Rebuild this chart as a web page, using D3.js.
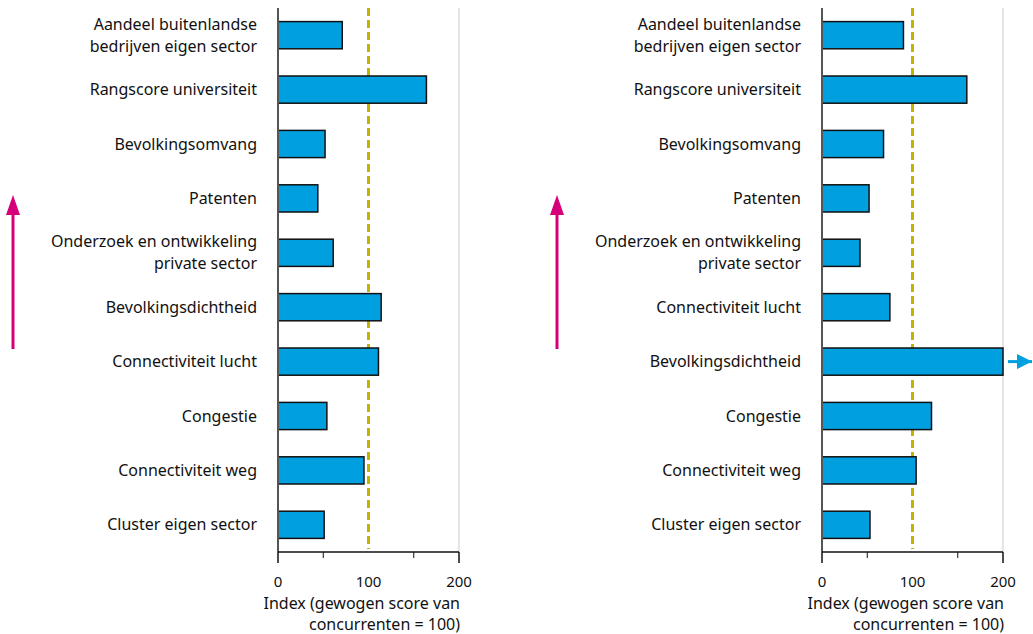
<!DOCTYPE html>
<html>
<head>
<meta charset="utf-8">
<script src="https://cdn.jsdelivr.net/npm/d3@7"></script>
<style>
  body { margin: 0; background: #fff; }
  svg { display: block; font-family: "Noto Sans", "Open Sans", sans-serif; }
</style>
</head>
<body>
<svg id="chart" width="1033" height="634"></svg>
<script>
// left panel
const leftCategories = [
    ["Aandeel buitenlandse", "bedrijven eigen sector"],
    ["Rangscore universiteit"],
    ["Bevolkingsomvang"],
    ["Patenten"],
    ["Onderzoek en ontwikkeling", "private sector"],
    ["Bevolkingsdichtheid"],
    ["Connectiviteit lucht"],
    ["Congestie"],
    ["Connectiviteit weg"],
    ["Cluster eigen sector"]
]
const leftValues = [71, 164, 52, 44, 61, 114, 111, 54, 95, 51]

// right panel
const rightCategories = [
    ["Aandeel buitenlandse", "bedrijven eigen sector"],
    ["Rangscore universiteit"],
    ["Bevolkingsomvang"],
    ["Patenten"],
    ["Onderzoek en ontwikkeling", "private sector"],
    ["Connectiviteit lucht"],
    ["Bevolkingsdichtheid"],
    ["Congestie"],
    ["Connectiviteit weg"],
    ["Cluster eigen sector"]
]
const rightValues = [90, 160, 68, 52, 42, 75, 230, 121, 104, 53]

const xTickLabels = [0, 100, 200]
const xMinorTicks = [50, 150]
const referenceValue = 100
const xMax = 200
const axisTitle = ["Index (gewogen score van", "concurrenten = 100)"]

const svg = d3.select('#chart')
const barColor = '#009fe0'
const accent = '#d4007a'

svg.append('defs').append('marker')
    .attr('id', 'overflow')
    .attr('viewBox', '0 0 10 10')
    .attr('refX', 10).attr('refY', 5)
    .attr('markerWidth', 5).attr('markerHeight', 5)
    .attr('markerUnits', 'strokeWidth')
    .attr('orient', 'auto')
    .append('path').attr('d', 'M0,0 L10,5 L0,10 Z').attr('fill', barColor)

const drawPanel = (originX, categories, values, labelX, arrowX) => {
    const g = svg.append('g')
    const x = d3.scaleLinear().domain([0, xMax]).range([originX, originX + 181])
    const y = d3.scaleBand().domain(d3.range(categories.length)).range([8, 552]).paddingInner(0.5).paddingOuter(0.25)

    // grey line at the end of the scale
    g.append('line')
        .attr('x1', x(xMax)).attr('x2', x(xMax))
        .attr('y1', 8).attr('y2', 552)
        .attr('stroke', '#dcdcdc').attr('stroke-width', 1.5)

    // reference line at 100 (sits behind the bars)
    g.append('line')
        .attr('x1', x(referenceValue)).attr('x2', x(referenceValue))
        .attr('y1', 8).attr('y2', 549)
        .attr('stroke', '#c4b400').attr('stroke-width', 3)
        .attr('stroke-dasharray', '8,4')

    // bars, clipped at the end of the scale
    g.selectAll('rect.bar').data(values).join('rect')
        .attr('class', 'bar')
        .attr('x', x(0))
        .attr('y', (d, i) => y(i))
        .attr('width', d => x(Math.min(d, xMax)) - x(0))
        .attr('height', y.bandwidth())
        .attr('fill', barColor)
        .attr('stroke', '#111').attr('stroke-width', 1.5)

    // arrow for values beyond the axis
    values.forEach((d, i) => {
        if (d > xMax) {
            g.append('line')
                .attr('x1', x(xMax) + 5).attr('x2', x(xMax) + 29)
                .attr('y1', y(i) + y.bandwidth() / 2).attr('y2', y(i) + y.bandwidth() / 2)
                .attr('stroke', barColor).attr('stroke-width', 3)
                .attr('marker-end', 'url(#overflow)')
        }
    })

    // left axis line
    g.append('line')
        .attr('x1', x(0)).attr('x2', x(0))
        .attr('y1', 8).attr('y2', 552)
        .attr('stroke', '#555').attr('stroke-width', 2)

    // x axis
    const axis = g.append('g').attr('transform', 'translate(0,552)')
    axis.append('line')
        .attr('x1', x(0)).attr('x2', x(xMax))
        .attr('stroke', '#111').attr('stroke-width', 1.5)
    axis.selectAll('line.major').data([0, xMax]).join('line')
        .attr('class', 'major')
        .attr('x1', d => x(d)).attr('x2', d => x(d))
        .attr('y1', 0).attr('y2', 11)
        .attr('stroke', '#111').attr('stroke-width', 1.5)
    axis.selectAll('line.minor').data(xMinorTicks).join('line')
        .attr('class', 'minor')
        .attr('x1', d => x(d)).attr('x2', d => x(d))
        .attr('y1', 0).attr('y2', 6)
        .attr('stroke', '#111').attr('stroke-width', 1)
    axis.selectAll('text').data(xTickLabels).join('text')
        .attr('x', d => x(d)).attr('y', 35)
        .attr('text-anchor', 'middle')
        .attr('font-size', 15).attr('fill', '#111')
        .text(d => d)

    g.selectAll('text.title').data(axisTitle).join('text')
        .attr('class', 'title')
        .attr('x', x(xMax) + 1)
        .attr('y', (d, i) => 609 + i * 21)
        .attr('text-anchor', 'end')
        .attr('font-size', 16).attr('fill', '#111')
        .text(d => d)

    // category labels
    categories.forEach((lines, i) => {
        const cy = y(i) + y.bandwidth() / 2
        const t = g.append('text')
            .attr('text-anchor', 'end')
            .attr('font-size', 16).attr('fill', '#111')
        lines.forEach((line, j) => {
            t.append('tspan')
                .attr('x', labelX)
                .attr('y', cy + 5.5 + (j - (lines.length - 1) / 2) * 22)
                .text(line)
        })
    })

    // magenta direction arrow
    g.append('line')
        .attr('x1', arrowX).attr('x2', arrowX)
        .attr('y1', 349).attr('y2', 212)
        .attr('stroke', accent).attr('stroke-width', 3)
    g.append('path')
        .attr('d', `M${arrowX - 7},215 L${arrowX},195 L${arrowX + 7},215 Z`)
        .attr('fill', accent)
}

drawPanel(278, leftCategories, leftValues, 257, 13)
drawPanel(822, rightCategories, rightValues, 801, 557)
</script>
</body>
</html>
